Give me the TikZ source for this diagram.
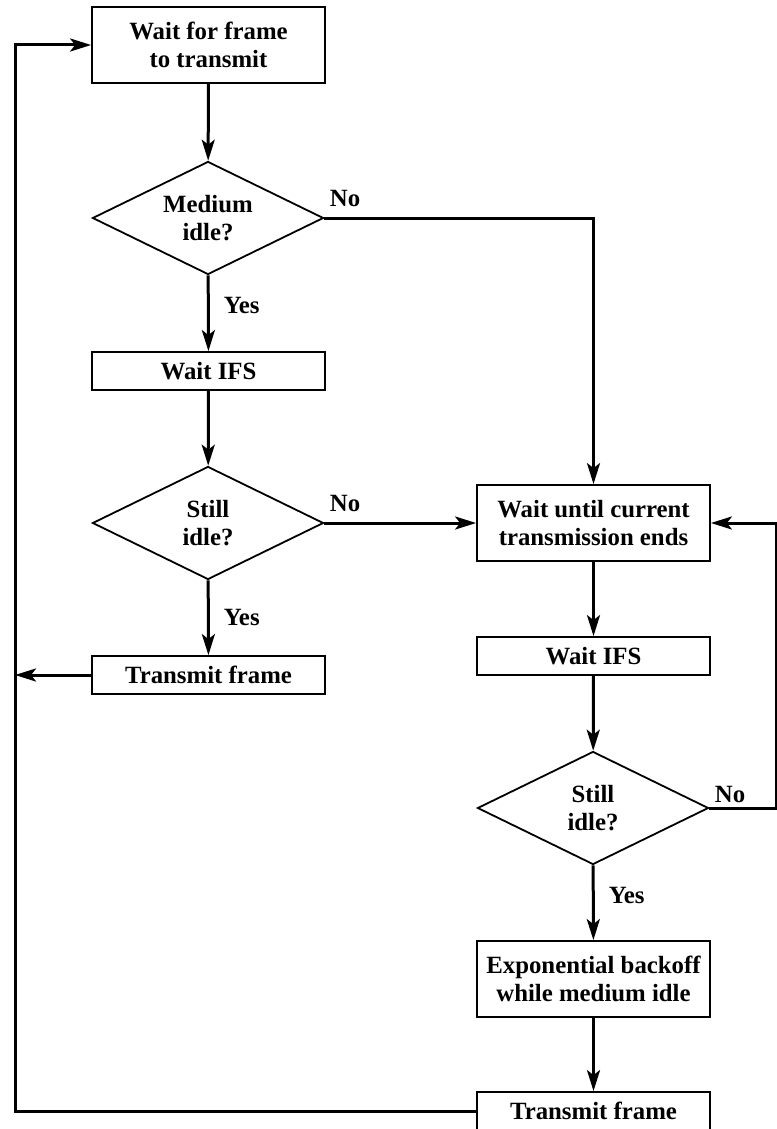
\documentclass[tikz,border=0pt]{standalone}
\usepackage{fontspec}
\setmainfont{Liberation Serif}
\usetikzlibrary{shapes.geometric, arrows.meta, positioning}

\begin{document}
\begin{tikzpicture}[x=1pt, y=-1pt,
    box/.style={rectangle, draw, line width=1.8pt, minimum width=233pt, minimum height=38pt,
                inner sep=0pt, align=center, font=\fontsize{24.8}{28}\selectfont\bfseries},
    tallbox/.style={box, minimum height=76pt},
    decide/.style={diamond, draw, line width=1.8pt, aspect=2, inner sep=0pt,
                   minimum width=231pt, minimum height=113pt, align=center,
                   font=\fontsize{24.8}{28}\selectfont\bfseries},
    fl/.style={-{Stealth[length=21pt, width=13pt, inset=5pt]}, line width=3pt},
    nolbl/.style={font=\fontsize{24.8}{28}\selectfont\bfseries, inner sep=4pt, at start, above right, yshift=6pt},
    yeslbl/.style={font=\fontsize{24.8}{28}\selectfont\bfseries, inner sep=4pt, right, xshift=10pt}
]
\useasboundingbox (0,0) rectangle (776,1129);

% left column
\node[tallbox] (wait)   at (208.5, 45)  {Wait for frame\\to transmit};
\node[decide]  (medium) at (208, 218)   {Medium\\idle?};
\node[box]     (ifs1)   at (208.5, 371) {Wait IFS};
\node[decide]  (still1) at (208, 523)   {Still\\idle?};
\node[box]     (tx1)    at (208.5, 675) {Transmit frame};

% right column
\node[tallbox] (waitcur) at (593.5, 523)  {Wait until current\\transmission ends};
\node[box]     (ifs2)    at (593.5, 656)  {Wait IFS};
\node[decide]  (still2)  at (593, 808)    {Still\\idle?};
\node[tallbox] (backoff) at (593.5, 979)  {Exponential backoff\\while medium idle};
\node[box]     (tx2)     at (593.5, 1111) {Transmit frame};

\coordinate (lft) at (15, 45);
\coordinate (rgt) at (776.5, 523);

\draw[fl] (wait) -- (medium);
\draw[fl] (medium.east) -| node[nolbl]{No} (waitcur.north);
\draw[fl] (medium) -- node[yeslbl, pos=0.4]{Yes} (ifs1);
\draw[fl] (ifs1) -- (still1);
\draw[fl] (still1.east) -- node[nolbl]{No} (waitcur.west);
\draw[fl] (still1) -- node[yeslbl, pos=0.5]{Yes} (tx1);
\draw[fl] (tx1.west) -- (tx1.west -| lft);

\draw[fl] (waitcur) -- (ifs2);
\draw[fl] (ifs2) -- (still2);
\draw[fl] (still2.east) -| node[nolbl, yshift=-6pt]{No} (rgt) -- (waitcur.east);
\draw[fl] (still2) -- node[yeslbl, pos=0.4]{Yes} (backoff);
\draw[fl] (backoff) -- (tx2);
\draw[fl] (tx2.west) -| (lft) -- (wait.west);
\end{tikzpicture}
\end{document}
